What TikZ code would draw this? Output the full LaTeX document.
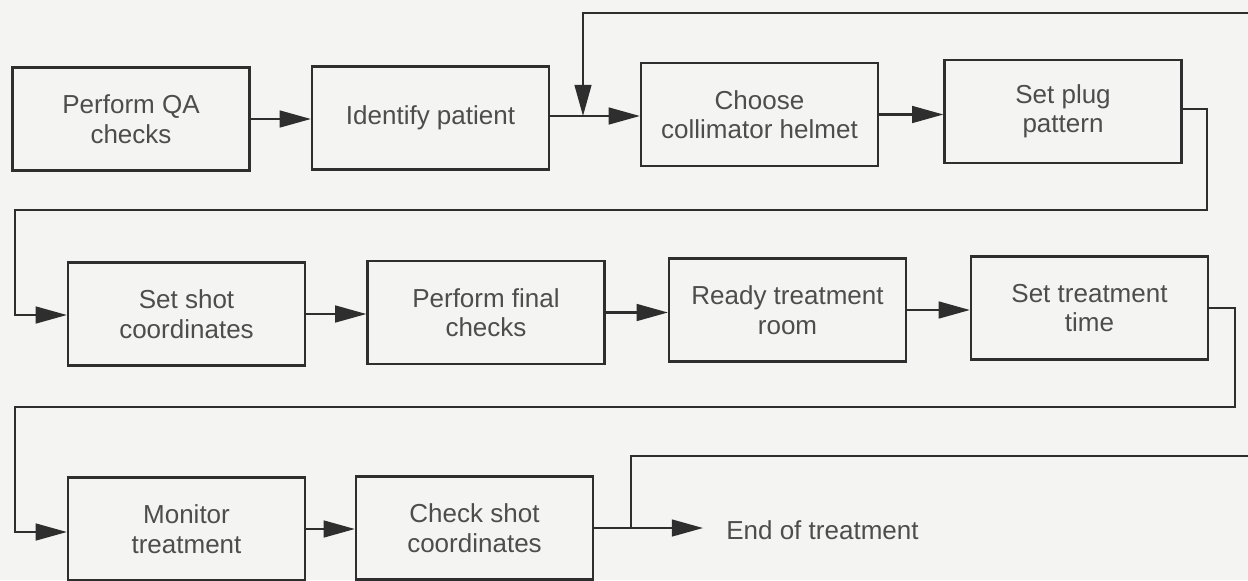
\documentclass[tikz,border=0pt]{standalone}
\usepackage{fontspec}
\setmainfont{Liberation Sans}
\usetikzlibrary{arrows.meta}
\definecolor{paper}{HTML}{F4F4F2}
\definecolor{ink}{HTML}{2E2E2E}
\tikzset{
  stepbox/.style={draw=ink, line width=1.6pt, minimum width=237*0.025cm,
    minimum height=103*0.025cm, align=center, inner sep=2pt,
    text=ink!85, font=\fontsize{18.5}{21}\selectfont},
  flow/.style={draw=ink, line width=1.5pt,
    -{Triangle[length=0.78cm, width=0.42cm]}},
  wire/.style={draw=ink, line width=1.5pt},
  endlabel/.style={anchor=west, inner sep=0pt, text=ink!85,
    font=\fontsize{18.5}{21}\selectfont}
}
\begin{document}
\begin{tikzpicture}[x=0.025cm, y=-0.025cm]
  \fill[paper] (0,0) rectangle (1248,580);
  \useasboundingbox (0,0) rectangle (1248,580);

  % first row
  \node[stepbox] (qa)     at (131,119)   {Perform QA\\checks};
  \node[stepbox] (ident)  at (430.5,118) {Identify patient};
  \node[stepbox] (helmet) at (759.5,114.5) {Choose\\collimator helmet};
  \node[stepbox] (plug)   at (1063,111.5) {Set plug\\pattern};

  % second row
  \node[stepbox] (shot)   at (186.5,314) {Set shot\\coordinates};
  \node[stepbox] (final)  at (486,312.5) {Perform final\\checks};
  \node[stepbox] (room)   at (787.5,310) {Ready treatment\\room};
  \node[stepbox] (time)   at (1089.5,308) {Set treatment\\time};

  % third row
  \node[stepbox] (monitor) at (186.5,529) {Monitor\\treatment};
  \node[stepbox] (check)   at (474.5,528) {Check shot\\coordinates};
  \node[endlabel] (done)   at (726,530) {End of treatment};

  % routing points
  \coordinate (topin)   at (1248,13);
  \coordinate (join1)   at (583,116);
  \coordinate (branch)  at (631,528);
  \coordinate (topout)  at (1248,456);
  \coordinate (tip)     at (703,528);

  % straight links in each row
  \draw[flow] (qa.east) -- (qa.east -| ident.west);
  \draw[flow] (ident.east |- join1) -- (helmet.west |- join1);
  \draw[flow] (helmet.east) -- (helmet.east -| plug.west);
  \draw[flow] (shot.east) -- (shot.east -| final.west);
  \draw[flow] (final.east) -- (final.east -| room.west);
  \draw[flow] (room.east) -- (room.east -| time.west);
  \draw[flow] (monitor.east) -- (monitor.east -| check.west);
  \draw[flow] (check.east |- branch) -- (tip);

  % return path entering between patient and helmet
  \draw[flow] (topin) -- (join1 |- topin) -- (join1);

  % wrap from end of row one to start of row two
  \draw[flow] (plug.east |- 0,109) -- (1207,109) -- (1207,210)
    -- (15,210) -- (15,315) -- (shot.west |- 0,315);

  % wrap from end of row two to start of row three
  \draw[flow] (time.east |- 0,308) -- (1235,308) -- (1235,407)
    -- (15,407) -- (15,532) -- (monitor.west |- 0,532);

  % branch leaving after the shot check
  \draw[wire] (branch) -- (branch |- topout) -- (topout);
\end{tikzpicture}
\end{document}
